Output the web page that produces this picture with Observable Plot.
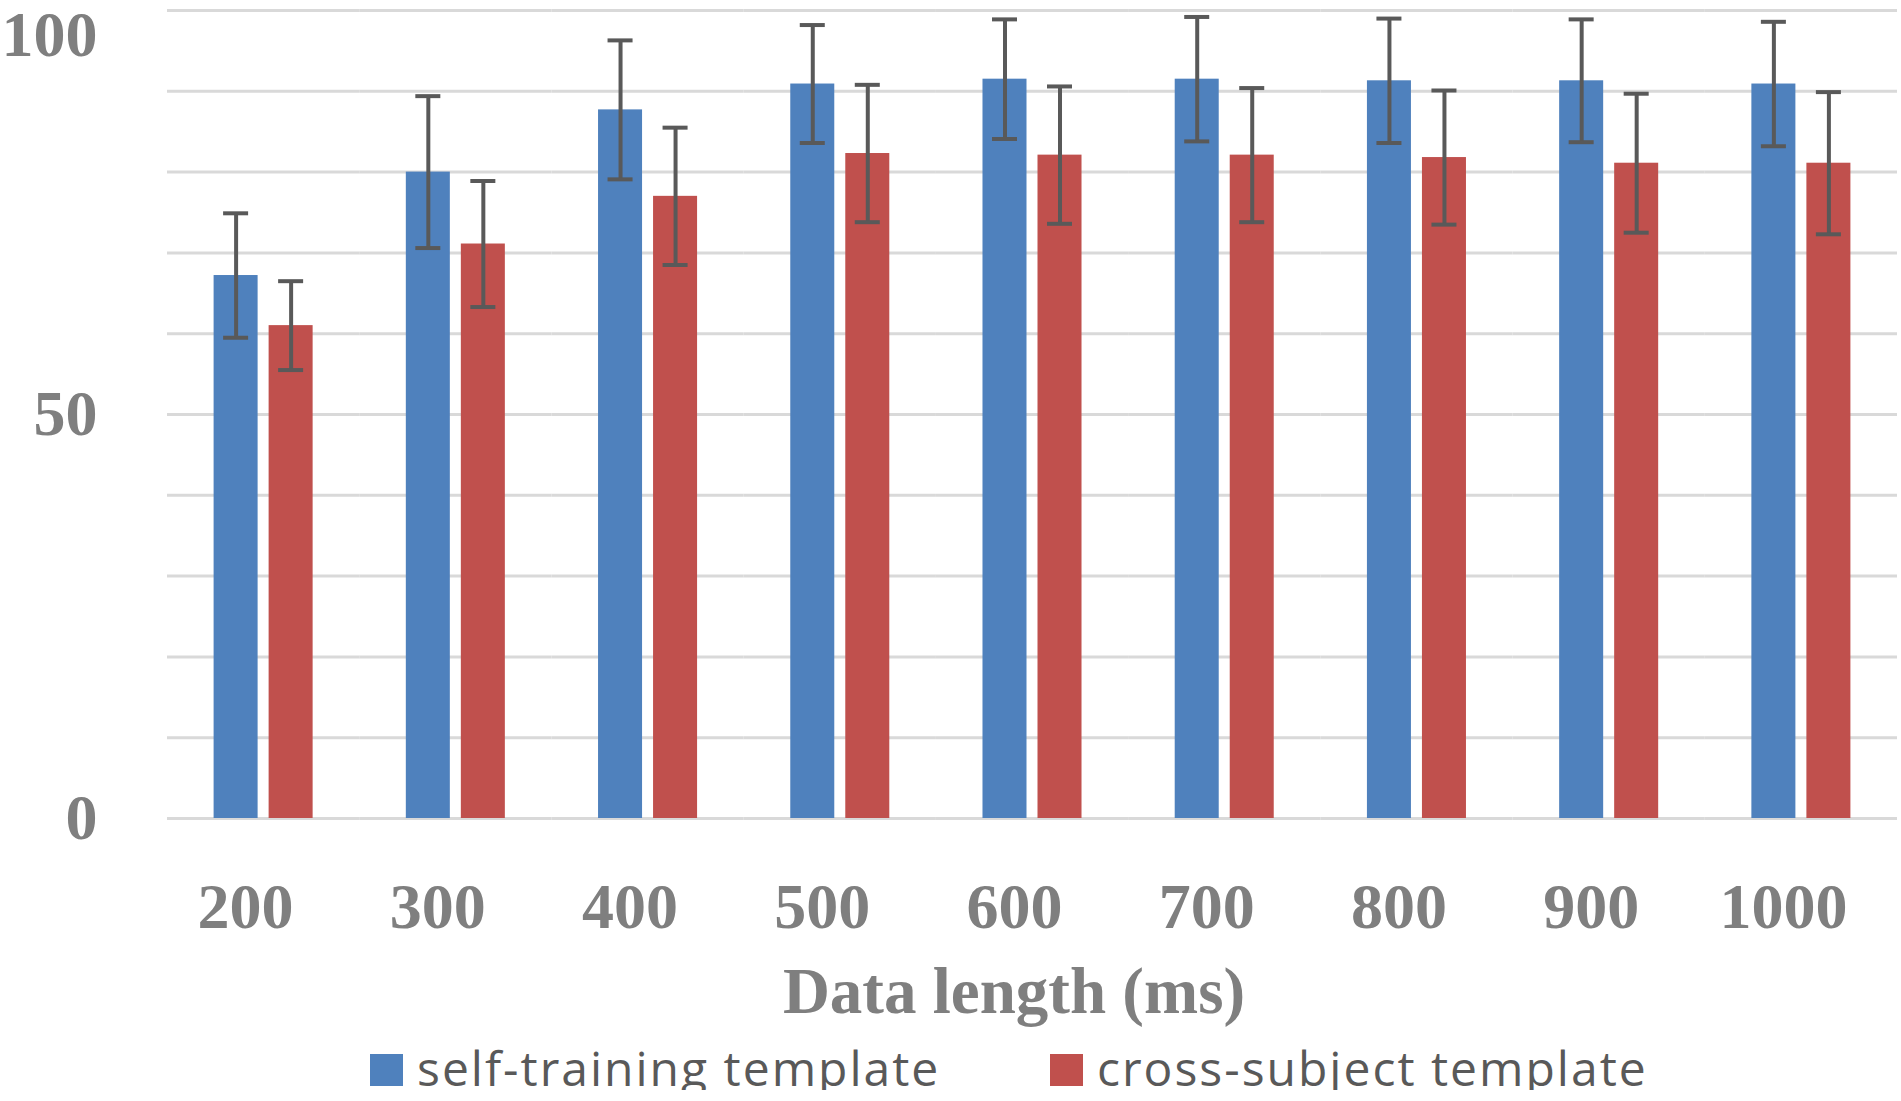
<!DOCTYPE html>
<html>
<head>
<meta charset="utf-8">
<script src="https://cdn.jsdelivr.net/npm/d3@7"></script>
<script src="https://cdn.jsdelivr.net/npm/@observablehq/plot@0.6"></script>
<style>
  html, body { margin: 0; padding: 0; background: #fff; overflow: hidden; }
  #chart svg { display: block; }
  .title {
    font-family: "Liberation Serif", "Times New Roman", serif;
    font-weight: bold;
    font-size: 65px;
    line-height: 65px;
    height: 65px;
    color: #7f7f7f;
    text-align: center;
    padding-left: 127px;
    margin-top: 9px;
    white-space: nowrap;
  }
  .legend {
    font-family: "Open Sans", sans-serif;
    font-size: 48px;
    letter-spacing: 2px;
    line-height: 44px;
    height: 44px;
    color: #595959;
    padding-left: 370px;
    margin-top: 22px;
    white-space: nowrap;
  }
  .item { display: inline-block; }
  .item.first { width: 680px; }
  .swatch { display: inline-block; width: 33px; height: 32px; margin-right: 14px; vertical-align: baseline; }
</style>
</head>
<body>
<div id="chart"></div>
<div class="title" id="title"></div>
<div class="legend" id="legend"></div>
<script>
// ---- data ----
const lengths = ["200", "300", "400", "500", "600", "700", "800", "900", "1000"];
const seriesNames = ["self-training template", "cross-subject template"];
const selfMean  = [67.2, 80.0, 87.7, 90.9, 91.5, 91.5, 91.3, 91.3, 90.9];
const selfErr   = [7.7, 9.4, 8.6, 7.3, 7.4, 7.7, 7.7, 7.6, 7.7];
const crossMean = [61.0, 71.1, 77.0, 82.3, 82.1, 82.1, 81.8, 81.1, 81.1];
const crossErr  = [5.5, 7.8, 8.5, 8.5, 8.5, 8.3, 8.3, 8.6, 8.8];
const yGridTicks = [0, 10, 20, 30, 40, 50, 60, 70, 80, 90, 100];
const yLabelTicks = [0, 50];
const yTopTicks = [100];
const seriesColors = ["#4f81bd", "#c0504d"];
const xTitle = "Data length (ms)";

const data = lengths.flatMap((len, i) => [
  {len, series: seriesNames[0], v: selfMean[i], e: selfErr[i]},
  {len, series: seriesNames[1], v: crossMean[i], e: crossErr[i]}
]);

const tickFont = {fontSize: 64, fontWeight: "bold", fill: "#7f7f7f"};

const chart = Plot.plot({
  width: 1901,
  height: 950,
  marginLeft: 167,
  marginRight: 4,
  marginTop: 10,
  marginBottom: 132,
  style: {fontFamily: "'Liberation Serif', 'Times New Roman', serif", background: "#fff"},
  fx: {domain: lengths, padding: 0, round: false, label: null},
  x: {domain: seriesNames, paddingInner: 0.2, paddingOuter: 0.847, round: false, axis: null},
  y: {domain: [0, 100]},
  color: {domain: seriesNames, range: seriesColors},
  marks: [
    Plot.gridY(yGridTicks, {stroke: "#d9d9d9", strokeOpacity: 1, strokeWidth: 3}),
    Plot.barY(data, {fx: "len", x: "series", y: "v", fill: "series"}),
    Plot.ruleX(data, {fx: "len", x: "series", y1: d => d.v - d.e, y2: d => d.v + d.e, stroke: "#595959", strokeWidth: 4}),
    Plot.tickY(data, {fx: "len", x: "series", y: d => d.v + d.e, stroke: "#595959", strokeWidth: 4, insetLeft: 9.5, insetRight: 9.5}),
    Plot.tickY(data, {fx: "len", x: "series", y: d => d.v - d.e, stroke: "#595959", strokeWidth: 4, insetLeft: 9.5, insetRight: 9.5}),
    Plot.axisY({ticks: yLabelTicks, tickSize: 0, tickPadding: 70, label: null, ...tickFont}),
    Plot.axisY({ticks: yTopTicks, tickSize: 0, tickPadding: 70, label: null, lineAnchor: "top", ...tickFont}),
    Plot.axisFx({anchor: "bottom", tickSize: 0, tickPadding: 64, label: null, dx: -18, ...tickFont})
  ]
});
document.getElementById("chart").appendChild(chart);

document.getElementById("title").textContent = xTitle;

const legend = document.getElementById("legend");
seriesNames.forEach((name, i) => {
  const item = document.createElement("span");
  item.className = "item" + (i === 0 ? " first" : "");
  const sw = document.createElement("span");
  sw.className = "swatch";
  sw.style.background = seriesColors[i];
  item.appendChild(sw);
  item.appendChild(document.createTextNode(name));
  legend.appendChild(item);
});
</script>
</body>
</html>
